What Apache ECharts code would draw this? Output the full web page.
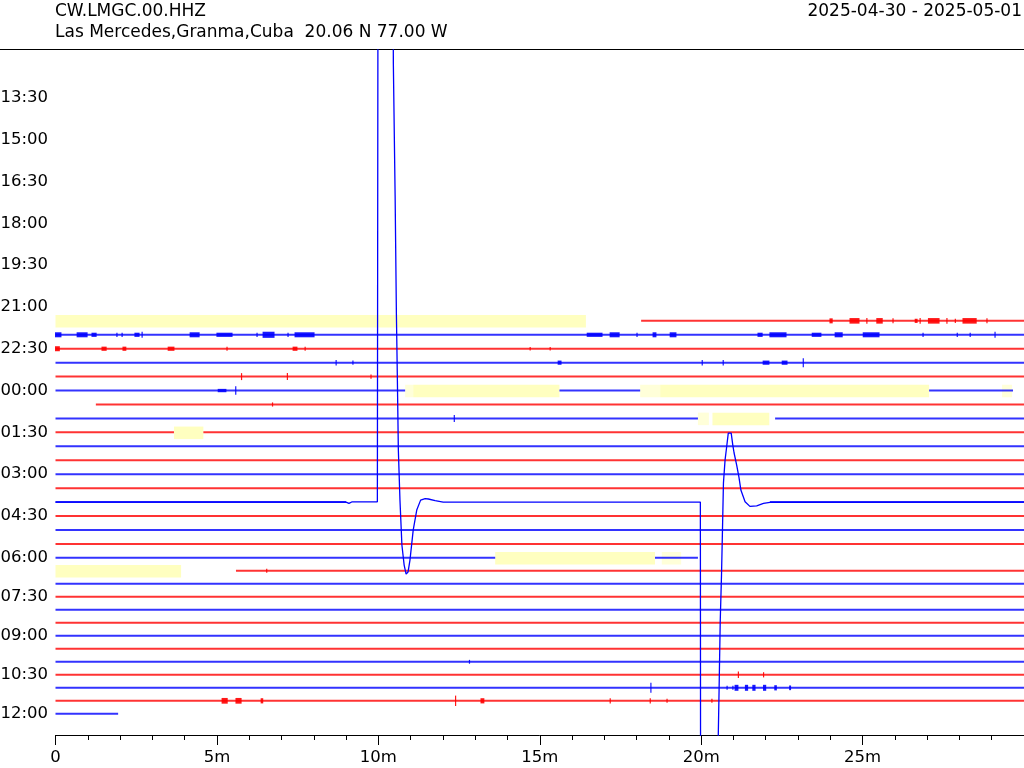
<!DOCTYPE html>
<html><head><meta charset="utf-8">
<script src="https://cdn.jsdelivr.net/npm/echarts@6/dist/echarts.min.js"></script>
<style>html,body{margin:0;padding:0;background:#fff}#c{width:1024px;height:768px}</style>
</head><body><div id="c"></div>
<script>
// ---------- header text ----------
const stationLine1 = 'CW.LMGC.00.HHZ';
const stationLine2 = 'Las Mercedes,Granma,Cuba  20.06 N 77.00 W';
const dateRange = '2025-04-30 - 2025-05-01';

// ---------- rows: row 0 = 12:00, each row = 30 minutes ----------
const tickRows   = [3, 6, 9, 12, 15, 18, 21, 24, 27, 30, 33, 36, 39, 42, 45, 48];
const tickLabels = ['13:30','15:00','16:30','18:00','19:30','21:00','22:30','00:00',
                    '01:30','03:00','04:30','06:00','07:30','09:00','10:30','12:00'];
const xTickValues = [0, 5, 10, 15, 20, 25, 30];
const xTickLabels = ['0', '5m', '10m', '15m', '20m', '25m', ''];

// trace segments with data: [row, startMinute, endMinute]
const segments = [
  [19, 18.14, 30],
  [20, 0, 30], [21, 0, 30], [22, 0, 30], [23, 0, 30],
  [24, 0, 10.83], [24, 15.61, 18.11], [24, 27.06, 29.66],
  [25, 1.25, 30],
  [26, 0, 19.90], [26, 22.29, 30],
  [27, 0, 3.67], [27, 4.58, 30],
  [28, 0, 30], [29, 0, 30], [30, 0, 30], [31, 0, 30],
  [32, 0, 9.0], [32, 22.13, 30],
  [33, 0, 30], [34, 0, 30], [35, 0, 30],
  [36, 0, 13.62], [36, 18.57, 19.90],
  [37, 5.59, 30],
  [38, 0, 30], [39, 0, 30], [40, 0, 30], [41, 0, 30], [42, 0, 30],
  [43, 0, 30], [44, 0, 30], [45, 0, 30], [46, 0, 30], [47, 0, 30],
  [48, 0, 1.94]
];

// noise bursts / spikes: [row, startMinute, endMinute, halfAmplitude (rows)]
const bursts = [
  [19,23.99,24.09,0.18],[19,24.61,24.92,0.2],[19,25.13,25.13,0.2],[19,25.44,25.64,0.2],
  [19,25.94,25.94,0.18],[19,26.63,26.72,0.15],[19,26.78,26.78,0.2],[19,27.04,27.40,0.2],
  [19,27.61,27.61,0.2],[19,27.87,27.87,0.15],[19,28.11,28.55,0.2],[19,28.85,28.85,0.18],
  [20,0,0.2,0.18],[20,0.67,1.01,0.18],[20,1.13,1.29,0.15],[20,1.9,1.9,0.15],[20,2.06,2.06,0.15],
  [20,2.46,2.62,0.15],[20,2.68,2.68,0.22],[20,4.17,4.48,0.18],[20,5.0,5.5,0.15],[20,6.24,6.24,0.15],
  [20,6.43,6.8,0.22],[20,7.2,7.2,0.15],[20,7.42,8.04,0.18],[20,16.47,16.96,0.15],[20,17.18,17.49,0.18],
  [20,18.01,18.01,0.15],[20,18.51,18.63,0.18],[20,19.04,19.25,0.18],[20,21.76,21.92,0.15],
  [20,22.13,22.66,0.18],[20,23.44,23.74,0.15],[20,24.15,24.4,0.18],[20,25.02,25.54,0.18],
  [20,26.87,26.87,0.15],[20,27.93,27.93,0.15],[20,28.33,28.33,0.15],[20,29.1,29.1,0.22],
  [21,0,0.15,0.18],[21,1.44,1.6,0.15],[21,2.09,2.21,0.15],[21,3.49,3.7,0.15],[21,5.31,5.31,0.15],
  [21,7.36,7.51,0.15],[21,7.73,7.73,0.15],[21,14.7,14.7,0.13],[21,15.32,15.32,0.13],
  [22,8.69,8.69,0.2],[22,9.21,9.21,0.15],[22,15.57,15.69,0.15],[22,20.03,20.03,0.2],
  [22,20.68,20.68,0.2],[22,21.92,22.13,0.15],[22,22.51,22.69,0.15],[22,23.16,23.16,0.32],
  [23,5.76,5.76,0.25],[23,7.18,7.18,0.25],[23,9.77,9.77,0.15],
  [24,5.58,5.58,0.3],[24,5.04,5.31,0.12],
  [25,6.72,6.72,0.15],
  [26,12.35,12.35,0.25],
  [37,6.54,6.54,0.15],
  [44,12.82,12.82,0.15],
  [45,21.15,21.15,0.25],[45,21.93,21.93,0.2],
  [46,18.44,18.44,0.38],[46,20.8,20.8,0.15],[46,20.98,20.98,0.15],[46,21.05,21.17,0.23],
  [46,21.37,21.47,0.23],[46,21.6,21.7,0.23],[46,21.93,22.03,0.23],[46,22.28,22.36,0.2],[46,22.74,22.8,0.18],
  [47,5.16,5.35,0.22],[47,5.59,5.78,0.22],[47,6.37,6.45,0.2],[47,12.39,12.39,0.4],[47,13.18,13.3,0.2],
  [47,17.18,17.18,0.2],[47,18.42,18.42,0.2],[47,18.94,18.94,0.15],[47,20.33,20.33,0.15]
];

// data gaps (yellow): [row, startMinute, endMinute]
const gaps = [[19,0,16.43],[24,11.08,15.61],[24,18.73,27.06],[26,20.35,22.11],[27,3.67,4.58],[36,13.62,18.57],[37,0,3.89]];
const partialGaps = [[24,10.83,11.08],[24,18.11,18.73],[24,29.32,29.63],[26,19.90,20.24],[36,18.78,19.38]];

// calibration pulse on row 32 (04:00): [minute, offset in rows, up positive]
const pulseRow = 32;
const pulse = [
  [0,0],[9.0,0],[9.09,-0.09],[9.19,0.02],[9.97,0.02],[9.99,40],[10.455,40],[10.465,31.5],
  [10.52,22.0],[10.56,13.42],[10.59,8.75],[10.62,3.73],[10.67,0.14],[10.73,-3.08],[10.80,-4.52],
  [10.86,-5.17],[10.92,-5.02],[10.98,-4.16],[11.08,-2.01],[11.19,-0.57],[11.31,0.14],[11.45,0.25],
  [11.55,0.22],[11.76,0.11],[12.01,0],[19.975,0],[19.985,-30],[20.525,-30],[20.53,-16.72],
  [20.555,-13.49],[20.59,-8.61],[20.63,-5.24],[20.66,-2.01],[20.69,1.36],[20.74,3.01],[20.79,3.97],
  [20.84,4.95],[20.93,4.95],[20.98,4.09],[21.02,3.52],[21.10,2.65],[21.17,1.79],[21.23,0.86],
  [21.36,0.02],[21.51,-0.31],[21.72,-0.27],[21.93,-0.09],[22.13,-0.02],[30,0]
];

// ---------- chart ----------
const SPLIT_ROW = 36;
const BLUE = '#0000ff', RED = '#ff0000', YELLOW = '#ffffc0';
const FONT = 'DejaVu Sans';
const rowColor = r => (r % 2 === 0 ? BLUE : RED);
const gridOf = r => (r <= SPLIT_ROW ? 0 : 1);
const labelFor = v => { const i = tickRows.indexOf(Math.round(v)); return i >= 0 ? tickLabels[i] : ''; };

function bandItem(params, api) {
  const r = api.value(0), s = api.value(1), e = api.value(2);
  const p1 = api.coord([s, r]), p2 = api.coord([e, r]);
  return { type: 'rect', shape: { x: p1[0], y: p1[1] - 1, width: Math.max(p2[0] - p1[0], 1), height: 2 },
           style: { fill: rowColor(r), opacity: 0.8 } };
}
function burstItem(params, api) {
  const r = api.value(0), s = api.value(1), e = api.value(2), a = api.value(3);
  const p1 = api.coord([s, r - a]), p2 = api.coord([e, r + a]);
  return { type: 'rect', shape: { x: p1[0] - 0.5, y: p1[1], width: Math.max(p2[0] - p1[0], 1.2), height: p2[1] - p1[1] },
           style: { fill: rowColor(r), opacity: 0.9 } };
}
function gapItem(opacity) {
  return function (params, api) {
    const r = api.value(0), s = api.value(1), e = api.value(2);
    const p1 = api.coord([s, r]), p2 = api.coord([e, r]);
    return { type: 'rect', shape: { x: p1[0], y: p1[1] - 5.8, width: p2[0] - p1[0], height: 12.5 },
             style: { fill: YELLOW, opacity: opacity } };
  };
}

const series = [];
[0, 1].forEach(g => {
  const pick = arr => arr.filter(d => gridOf(d[0]) === g);
  const common = { type: 'custom', xAxisIndex: g, yAxisIndex: g, clip: true, silent: true, animation: false,
                   encode: { x: [1, 2], y: 0 } };
  series.push(Object.assign({}, common, { z: 1, renderItem: gapItem(1), data: pick(gaps) }));
  series.push(Object.assign({}, common, { z: 1, renderItem: gapItem(0.6), data: pick(partialGaps) }));
  series.push(Object.assign({}, common, { z: 2, renderItem: bandItem, data: pick(segments) }));
  series.push(Object.assign({}, common, { z: 3, renderItem: burstItem, data: pick(bursts) }));
});
series.push({
  type: 'line', xAxisIndex: 0, yAxisIndex: 0, z: 4, clip: true, silent: true, animation: false,
  showSymbol: false, lineStyle: { color: BLUE, width: 1.3 },
  data: pulse.map(p => [p[0], pulseRow - p[1]])
});

const xAxisBase = {
  type: 'value', min: 0, max: 30, interval: 5, position: 'bottom',
  splitLine: { show: false }, minorSplitLine: { show: false }
};
const yAxisBase = {
  type: 'value', inverse: true, position: 'left',
  axisLine: { show: false, onZero: false }, axisTick: { show: false }, splitLine: { show: false },
};
const AXIS_FONT = 16.5, HEAD_FONT = 17;
const gridBox = { left: 55.5, right: 0, top: 50, bottom: 33, containLabel: false, outerBoundsMode: 'none' };

const option = {
  backgroundColor: '#fff',
  animation: false,
  grid: [Object.assign({}, gridBox), Object.assign({}, gridBox)],
  xAxis: [
    Object.assign({}, xAxisBase, {
      gridIndex: 0,
      axisLine: { show: true, onZero: false, lineStyle: { color: '#000', width: 1 } },
      axisTick: { show: true, length: 10, lineStyle: { color: '#000', width: 1 } },
      minorTick: { show: true, splitNumber: 5, length: 5, lineStyle: { color: '#000', width: 1 } },
      axisLabel: { show: true, color: '#000', fontSize: AXIS_FONT, fontFamily: FONT, margin: 14,
        formatter: v => { const i = xTickValues.indexOf(v); return i >= 0 ? xTickLabels[i] : ''; } }
    }),
    Object.assign({}, xAxisBase, { gridIndex: 1, show: false, axisLine: { show: false, onZero: false } })
  ],
  yAxis: [
    Object.assign({}, yAxisBase, {
      gridIndex: 0, min: -0.430, max: 48.71,
      axisLabel: { show: true, color: '#000', fontSize: AXIS_FONT, fontFamily: FONT, margin: 7.5,
        customValues: tickRows.filter(r => r <= SPLIT_ROW), formatter: labelFor }
    }),
    Object.assign({}, yAxisBase, {
      gridIndex: 1, min: -3.06, max: 49.63,
      axisLabel: { show: true, color: '#000', fontSize: AXIS_FONT, fontFamily: FONT, margin: 7.5,
        customValues: tickRows.filter(r => r > SPLIT_ROW), formatter: labelFor }
    })
  ],
  graphic: [
    { type: 'line', shape: { x1: 0, y1: 49.5, x2: 1024, y2: 49.5 }, style: { stroke: '#000', lineWidth: 1 }, silent: true },
    { type: 'text', x: 55, y: 11.5, style: { text: stationLine1, fontSize: HEAD_FONT, fontFamily: FONT, fill: '#000', align: 'left', verticalAlign: 'middle' } },
    { type: 'text', x: 55, y: 33, style: { text: stationLine2, fontSize: HEAD_FONT, fontFamily: FONT, fill: '#000', align: 'left', verticalAlign: 'middle' } },
    { type: 'text', x: 1022, y: 11.5, style: { text: dateRange, fontSize: HEAD_FONT, fontFamily: FONT, fill: '#000', align: 'right', verticalAlign: 'middle' } }
  ],
  series: series
};

const chart = echarts.init(document.getElementById('c'), null, { renderer: 'canvas' });
chart.setOption(option);
</script>
</body></html>
